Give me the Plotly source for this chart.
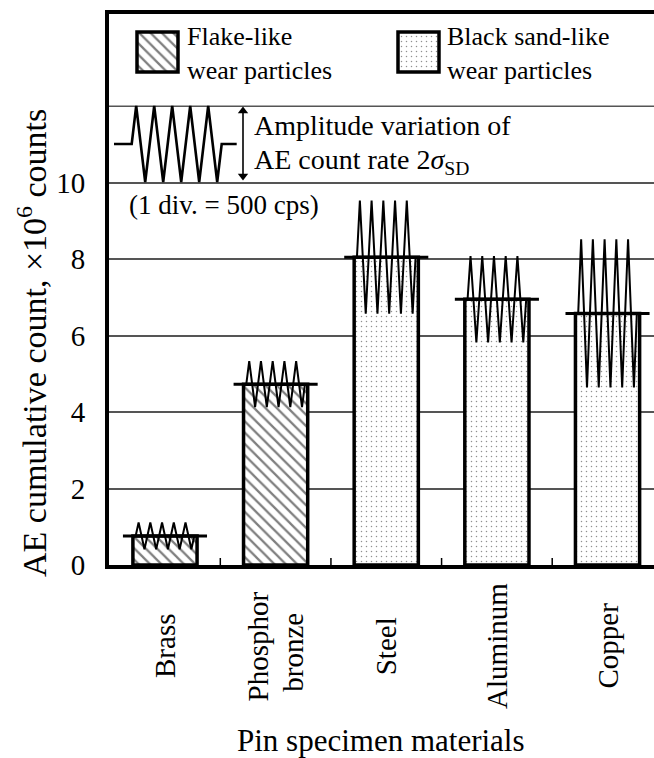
import plotly.graph_objects as go

# ---------------- data ----------------
materials = ["Brass", "Phosphor<br>bronze", "Steel", "Aluminum", "Copper"]
counts = [0.76, 4.73, 8.05, 6.95, 6.58]          # AE cumulative count, x10^6 counts
amplitude = [0.35, 0.60, 1.48, 1.13, 1.94]       # half of 2*sigma_SD zigzag height (axis units)
particle_type = ["flake", "flake", "sand", "sand", "sand"]
y_ticks = [0, 2, 4, 6, 8, 10]
y_tick_labels = ["0", "2", "4", "6", "8", "10"]
extra_gridlines = [12]
legend_labels = {"flake": "Flake-like<br>wear particles",
                 "sand": "Black sand-like<br>wear particles"}

# ---------------- layout geometry ----------------
W, H = 654, 758
ML, MT = 109, 14
PB = 565                      # pixel row of the x axis
PW, PH = W - ML, PB - MT
XR = [-0.506, 4.42]
YR = [0, 14.41]
FONT = "Liberation Serif"
BAR_W = 0.58
MEAN_W = 0.76
ZIG_W = 0.53
GRID_COLOR = "#555"


def px2x(px):
    return XR[0] + (px - ML) / PW * (XR[1] - XR[0])


def py2y(py):
    return YR[0] + (PB - py) / PH * (YR[1] - YR[0])


def px2p(px):
    return (px - ML) / PW


def py2p(py):
    return (PB - py) / PH


def x2p(x):
    return (x - XR[0]) / (XR[1] - XR[0])


def zigzag(cx, cy, width, amp, periods=5):
    n = 4 * periods
    xs, ys = [cx - width / 2], [cy]
    for k in range(1, n, 2):
        sign = 1 if (k // 2) % 2 == 0 else -1
        xs.append(cx - width / 2 + k * width / n)
        ys.append(cy + sign * amp)
    xs.append(cx + width / 2)
    ys.append(cy)
    return xs, ys


xpos = list(range(len(materials)))
fig = go.Figure()

patterns = {
    "flake": dict(shape="\\", size=8, solidity=0.28, fgcolor="black", bgcolor="white", fillmode="overlay"),
    "sand": dict(shape=".", size=5, solidity=0.07, fgcolor="#222", bgcolor="white", fillmode="overlay"),
}

for ptype in ["flake", "sand"]:
    idx = [i for i, t in enumerate(particle_type) if t == ptype]
    fig.add_trace(go.Bar(
        x=[xpos[i] for i in idx], y=[counts[i] for i in idx], width=BAR_W,
        marker=dict(color="white", pattern=patterns[ptype], line=dict(color="black", width=3.5)),
        showlegend=False, hoverinfo="skip"))

# mean lines extending beyond the bars
mx, my = [], []
for i, c in enumerate(counts):
    mx += [xpos[i] - MEAN_W / 2, xpos[i] + MEAN_W / 2, None]
    my += [c, c, None]
fig.add_trace(go.Scatter(x=mx, y=my, mode="lines", line=dict(color="black", width=3),
                         showlegend=False, hoverinfo="skip"))

# zigzags showing amplitude variation
zx, zy = [], []
for i, c in enumerate(counts):
    xs, ys = zigzag(xpos[i], c, ZIG_W, amplitude[i])
    zx += xs + [None]
    zy += ys + [None]
fig.add_trace(go.Scatter(x=zx, y=zy, mode="lines", line=dict(color="black", width=2),
                         showlegend=False, hoverinfo="skip"))

# ---------------- legend keys ----------------
key_boxes = {"flake": (137, 178), "sand": (398, 439)}
for ptype, (x0, x1) in key_boxes.items():
    fig.add_trace(go.Bar(
        x=[px2x((x0 + x1) / 2)], y=[py2y(32) - py2y(72)], base=[py2y(72)],
        width=[px2x(x1) - px2x(x0)],
        marker=dict(color="white", pattern=patterns[ptype], line=dict(color="black", width=3.5)),
        showlegend=False, hoverinfo="skip"))

text_x = {"flake": 185, "sand": 445}
annotations = []
for ptype, txt in legend_labels.items():
    annotations.append(dict(x=px2p(text_x[ptype]), y=py2p(53), text=txt,
                            showarrow=False, xanchor="left", yanchor="middle", align="left",
                            font=dict(family=FONT, size=26, color="black")))

# legend zigzag sample
lx, ly = zigzag(px2x(176.7), py2y(144), px2x(221.7) - px2x(131.7), py2y(106) - py2y(144))
lx = [px2x(114)] + lx + [px2x(236.7)]
ly = [py2y(144)] + ly + [py2y(144)]
fig.add_trace(go.Scatter(x=lx, y=ly, mode="lines", line=dict(color="black", width=2.6),
                         showlegend=False, hoverinfo="skip"))

# double-headed arrow
fig.add_trace(go.Scatter(x=[px2x(243), px2x(243)], y=[py2y(110), py2y(177)], mode="lines",
                         line=dict(color="black", width=1.6), showlegend=False, hoverinfo="skip"))
fig.add_trace(go.Scatter(x=[px2x(243), px2x(243)], y=[py2y(111), py2y(176)], mode="markers",
                         marker=dict(symbol=["triangle-up", "triangle-down"], size=9, color="black",
                                     line=dict(width=0)),
                         showlegend=False, hoverinfo="skip"))

annotations.append(dict(x=px2p(252), y=py2p(125.5), text="Amplitude variation of",
                        showarrow=False, xanchor="left", yanchor="middle",
                        font=dict(family=FONT, size=28, color="black")))
annotations.append(dict(x=px2p(252), y=py2p(161.5), text="AE count rate 2<i>σ</i><sub>SD</sub>",
                        showarrow=False, xanchor="left", yanchor="middle",
                        font=dict(family=FONT, size=28, color="black")))
annotations.append(dict(x=px2p(127), y=py2p(205), text="(1 div. = 500 cps)",
                        showarrow=False, xanchor="left", yanchor="middle",
                        font=dict(family=FONT, size=27, color="black")))

# category labels (rotated, centred); multi-line labels are placed line by line
LINE_GAP = 0.31
for i, m in enumerate(materials):
    parts = m.split("<br>")
    for j, part in enumerate(parts):
        off = (j - (len(parts) - 1) / 2) * LINE_GAP
        annotations.append(dict(x=x2p(xpos[i] + off), y=py2p(646 + 6 * j),
                                text=part, textangle=-90,
                                showarrow=False, xanchor="center", yanchor="middle",
                                font=dict(family=FONT, size=29, color="black")))

# axis titles
annotations.append(dict(x=px2p(381), y=py2p(741), text="Pin specimen materials",
                        showarrow=False, xanchor="center", yanchor="middle",
                        font=dict(family=FONT, size=31, color="black")))
annotations.append(dict(x=px2p(32), y=py2p(343), text="AE cumulative count, ×10<sup>6</sup> counts",
                        textangle=-90, showarrow=False, xanchor="center", yanchor="middle",
                        font=dict(family=FONT, size=34, color="black")))

for a in annotations:
    a.setdefault("xref", "paper")
    a.setdefault("yref", "paper")

shapes = [dict(type="line", xref="paper", yref="y", x0=0, x1=1, y0=g, y1=g, layer="below",
               line=dict(color=GRID_COLOR, width=1.5)) for g in extra_gridlines]
# small inside ticks between categories
for a, b in zip(xpos[:-1], xpos[1:]):
    shapes.append(dict(type="line", xref="x", yref="paper", x0=(a + b) / 2, x1=(a + b) / 2,
                       y0=0, y1=7 / PH, line=dict(color="black", width=1.5)))

fig.update_layout(
    width=W, height=H,
    margin=dict(l=ML, r=0, t=MT, b=H - PB, pad=0),
    paper_bgcolor="white", plot_bgcolor="white",
    barmode="overlay", showlegend=False,
    annotations=annotations, shapes=shapes,
    xaxis=dict(range=XR, showgrid=False, zeroline=False,
               tickvals=[], ticks="", showticklabels=False,
               showline=True, linecolor="black", linewidth=4, mirror=True),
    yaxis=dict(range=YR, tickvals=y_ticks, ticktext=y_tick_labels,
               showgrid=True, gridcolor=GRID_COLOR, gridwidth=1.5, zeroline=False,
               ticks="", ticklabelstandoff=14,
               tickfont=dict(family=FONT, size=29, color="black"),
               showline=True, linecolor="black", linewidth=4),
)

fig.write_html("out.html")
